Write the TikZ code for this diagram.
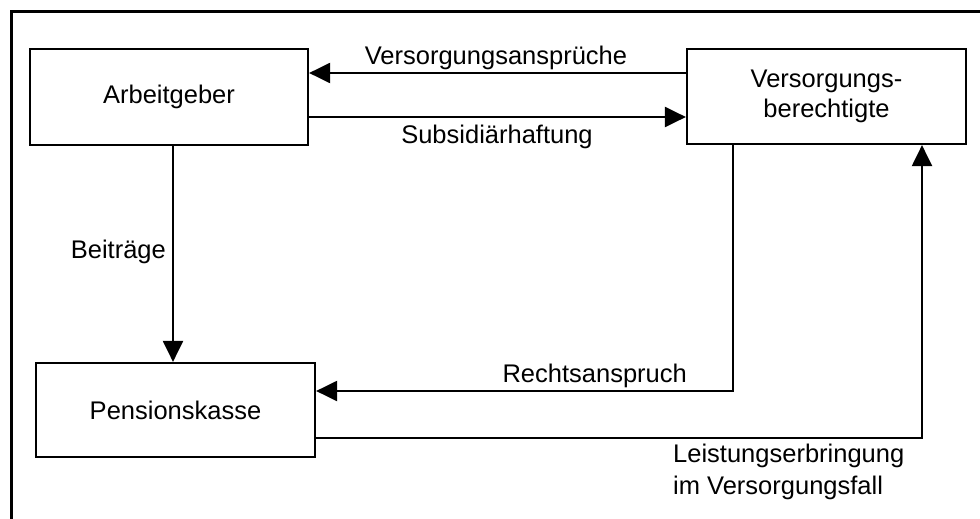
\documentclass[tikz,border=0pt]{standalone}
\usepackage{fontspec}
\setmainfont{Liberation Sans}
\usetikzlibrary{arrows.meta}
\begin{document}
\begin{tikzpicture}[x=1pt,y=-1pt,
  lbl/.style={font=\fontsize{25.5}{32}\selectfont, inner sep=0pt},
  box/.style={draw, line width=2.2pt, font=\fontsize{25.5}{30}\selectfont, align=center},
  arr/.style={line width=2.2pt, -{Triangle[length=21pt,width=20pt]}},
  plain/.style={line width=2.2pt}]
\useasboundingbox (0,0) rectangle (980,519);
\draw[plain] (11.5,519) -- (11.5,11.5) -- (980,11.5);
\node[box, minimum width=278pt, minimum height=96pt] (AG) at (169,97) {Arbeitgeber};
\node[box, minimum width=279pt, minimum height=95pt] (VB) at (826.5,96.5) {Versorgungs-\\berechtigte};
\node[box, minimum width=279pt, minimum height=94pt] (PK) at (175.5,410) {Pensionskasse};
\draw[arr] (VB.west |- 0,73) -- (AG.east |- 0,73);
\draw[arr] (AG.east |- 0,117) -- (VB.west |- 0,117);
\draw[arr] ([xshift=4pt]AG.south) -- ([xshift=-2.5pt]PK.north);
\draw[arr] ([xshift=-93.5pt]VB.south) |- (PK.east |- 0,391);
\draw[arr] (PK.east |- 0,438) -| ([xshift=95.5pt]VB.south);
\node[lbl, anchor=base] (l1) at (496,65) {Versorgungsansprüche};
\node[lbl, anchor=base] (l2) at (497,143) {Subsidiärhaftung};
\node[lbl, anchor=base east] (l3) at (166,258) {Beiträge};
\node[lbl, anchor=base east] (l4) at (687,382) {Rechtsanspruch};
\node[lbl, anchor=north west, align=left] (l5) at (673,444) {Leistungserbringung\\im Versorgungsfall};
\end{tikzpicture}
\end{document}
